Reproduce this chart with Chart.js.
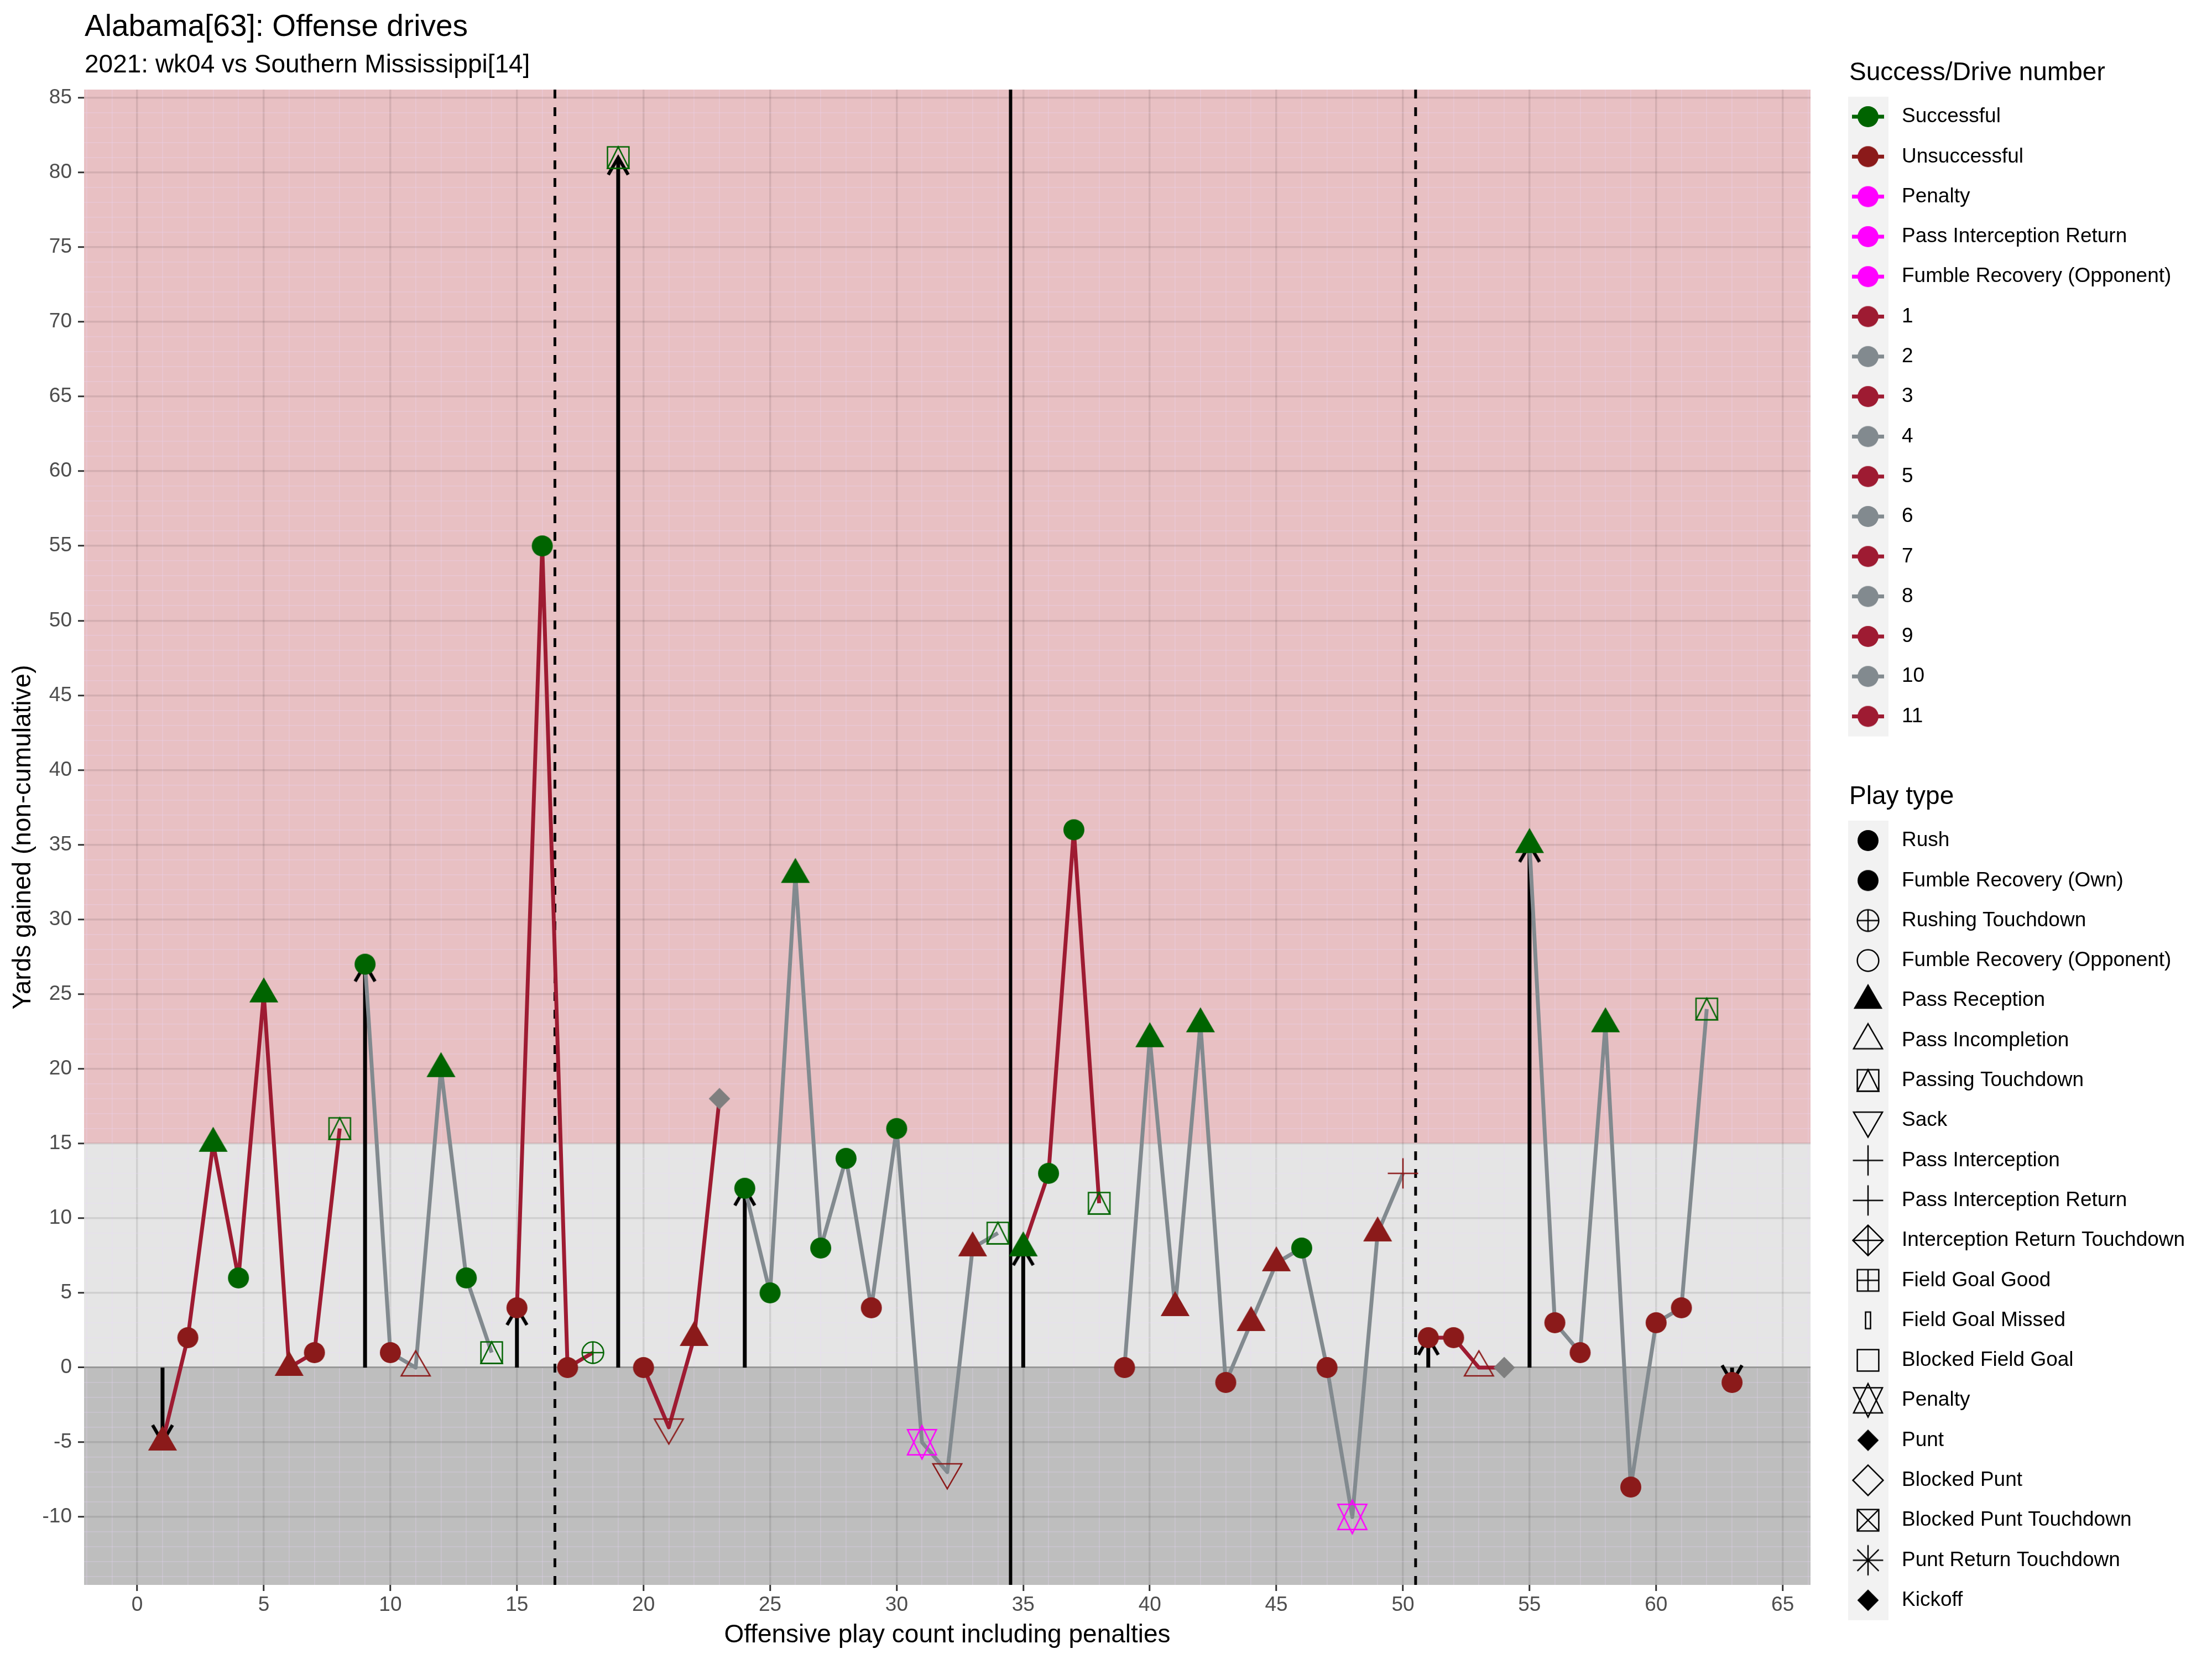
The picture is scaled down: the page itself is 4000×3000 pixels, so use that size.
<!DOCTYPE html>
<html>
<head>
<meta charset="utf-8">
<title>Alabama[63]: Offense drives</title>
<script src="https://cdn.jsdelivr.net/npm/chart.js@4.4.1/dist/chart.umd.min.js"></script>
<style>
  body { margin: 0; background: #ffffff; }
  canvas { display: block; }
</style>
</head>
<body>
<canvas id="driveChart" width="4000" height="3000"></canvas>
<script>
// play by play
const playNo = [1, 2, 3, 4, 5, 6, 7, 8, 9, 10, 11, 12, 13, 14, 15, 16, 17, 18, 19, 20,
  21, 22, 23, 24, 25, 26, 27, 28, 29, 30, 31, 32, 33, 34, 35, 36, 37, 38, 39, 40,
  41, 42, 43, 44, 45, 46, 47, 48, 49, 50, 51, 52, 53, 54, 55, 56, 57, 58, 59, 60,
  61, 62, 63];
const yardsGained = [-5, 2, 15, 6, 25, 0, 1, 16, 27, 1, 0, 20, 6, 1, 4, 55, 0, 1, 81, 0,
  -4, 2, 18, 12, 5, 33, 8, 14, 4, 16, -5, -7, 8, 9, 8, 13, 36, 11, 0, 22,
  4, 23, -1, 3, 7, 8, 0, -10, 9, 13, 2, 2, 0, 0, 35, 3, 1, 23, -8, 3,
  4, 24, -1];
const playType = ['Pass Reception', 'Rush', 'Pass Reception', 'Rush', 'Pass Reception', 'Pass Reception', 'Rush', 'Passing Touchdown',
  'Rush', 'Rush', 'Pass Incompletion', 'Pass Reception', 'Rush', 'Passing Touchdown',
  'Rush', 'Rush', 'Rush', 'Rushing Touchdown',
  'Passing Touchdown',
  'Rush', 'Sack', 'Pass Reception', 'Punt',
  'Rush', 'Rush', 'Pass Reception', 'Rush', 'Rush', 'Rush', 'Rush', 'Penalty', 'Sack', 'Pass Reception', 'Passing Touchdown',
  'Pass Reception', 'Rush', 'Rush', 'Passing Touchdown',
  'Rush', 'Pass Reception', 'Pass Reception', 'Pass Reception', 'Rush', 'Pass Reception', 'Pass Reception', 'Rush', 'Rush', 'Penalty', 'Pass Reception', 'Pass Interception',
  'Rush', 'Rush', 'Pass Incompletion', 'Punt',
  'Pass Reception', 'Rush', 'Rush', 'Pass Reception', 'Rush', 'Rush', 'Rush', 'Passing Touchdown',
  'Rush'];
// S = successful, U = unsuccessful, P = penalty, null = not rated
const playResult = ['U', 'U', 'S', 'S', 'S', 'U', 'U', 'S',
  'S', 'U', 'U', 'S', 'S', 'S',
  'U', 'S', 'U', 'S',
  'S',
  'U', 'U', 'U', null,
  'S', 'S', 'S', 'S', 'S', 'U', 'S', 'P', 'U', 'U', 'S',
  'S', 'S', 'S', 'S',
  'U', 'S', 'U', 'S', 'U', 'U', 'U', 'S', 'U', 'P', 'U', 'U',
  'U', 'U', 'U', null,
  'S', 'U', 'U', 'S', 'U', 'U', 'U', 'S',
  'U'];
const driveNo = [1, 1, 1, 1, 1, 1, 1, 1,
  2, 2, 2, 2, 2, 2,
  3, 3, 3, 3,
  4,
  5, 5, 5, 5,
  6, 6, 6, 6, 6, 6, 6, 6, 6, 6, 6,
  7, 7, 7, 7,
  8, 8, 8, 8, 8, 8, 8, 8, 8, 8, 8, 8,
  9, 9, 9, 9,
  10, 10, 10, 10, 10, 10, 10, 10,
  11];

const xRange = [-2.1, 66.1];
const yRange = [-14.55, 85.55];
const xTickLabels = [0, 5, 10, 15, 20, 25, 30, 35, 40, 45, 50, 55, 60, 65];
const yTickLabels = [-10, -5, 0, 5, 10, 15, 20, 25, 30, 35, 40, 45, 50, 55, 60, 65, 70, 75, 80, 85];
const quarterBreaks = [16.5, 50.5];
const halfBreaks = [34.5];

const successLabels = ['Successful', 'Unsuccessful', 'Penalty', 'Pass Interception Return', 'Fumble Recovery (Opponent)'];
const successColors = ['#006400', '#8B1A1A', '#FF00FF', '#FF00FF', '#FF00FF'];
const driveLabels = ['1', '2', '3', '4', '5', '6', '7', '8', '9', '10', '11'];
const driveColors = ['#9E1B32', '#828A8F'];
const playTypeLabels = ['Rush', 'Fumble Recovery (Own)', 'Rushing Touchdown', 'Fumble Recovery (Opponent)',
  'Pass Reception', 'Pass Incompletion', 'Passing Touchdown', 'Sack', 'Pass Interception',
  'Pass Interception Return', 'Interception Return Touchdown', 'Field Goal Good', 'Field Goal Missed',
  'Blocked Field Goal', 'Penalty', 'Punt', 'Blocked Punt', 'Blocked Punt Touchdown',
  'Punt Return Touchdown', 'Kickoff'];
const playTypeShapes = ['dot', 'dot', 'circlePlus', 'circle', 'triUp', 'triUpOpen', 'squareTri', 'triDownOpen', 'plus',
  'plus', 'diamondPlus', 'squarePlus', 'slab', 'square', 'star', 'diamondSmall', 'diamond', 'squareX',
  'asterisk', 'diamondSmall'];

const FONT = "'Liberation Sans', Arial, sans-serif";
const resultColor = { S: '#006400', U: '#8B1A1A', P: '#FF00FF' };
const RAD = 19.4;
const symbolCache = {};

// ggplot-like point shapes drawn onto small canvases, used as pointStyle
function makeSymbol(shape, color) {
  const key = shape + '|' + color;
  if (symbolCache[key]) return symbolCache[key];
  const size = 72;
  const c = document.createElement('canvas');
  c.width = size;
  c.height = size;
  const g = c.getContext('2d');
  g.translate(size / 2, size / 2);
  g.strokeStyle = color;
  g.fillStyle = color;
  g.lineWidth = 2.5;
  const r = RAD;
  const t0 = 1.5551 * r, t1 = 1.3468 * r, t2 = 0.7776 * r;
  const d = Math.SQRT2 * r;
  const path = (pts) => {
    g.beginPath();
    pts.forEach(([px, py], i) => (i ? g.lineTo(px, py) : g.moveTo(px, py)));
    g.closePath();
  };
  const seg = (x1, y1, x2, y2) => {
    g.beginPath();
    g.moveTo(x1, y1);
    g.lineTo(x2, y2);
    g.stroke();
  };
  switch (shape) {
    case 'dot':
      g.beginPath(); g.arc(0, 0, 19, 0, 2 * Math.PI); g.fill();
      break;
    case 'circle':
      g.beginPath(); g.arc(0, 0, r, 0, 2 * Math.PI); g.stroke();
      break;
    case 'circlePlus':
      g.beginPath(); g.arc(0, 0, r, 0, 2 * Math.PI); g.stroke();
      seg(-r, 0, r, 0); seg(0, -r, 0, r);
      break;
    case 'triUp':
      path([[0, -t0], [t1, t2], [-t1, t2]]); g.fill();
      break;
    case 'triUpOpen':
      path([[0, -t0], [t1, t2], [-t1, t2]]); g.stroke();
      break;
    case 'triDownOpen':
      path([[0, t0], [t1, -t2], [-t1, -t2]]); g.stroke();
      break;
    case 'squareTri':
      g.strokeRect(-r, -r, 2 * r, 2 * r);
      path([[0, -r], [r, r], [-r, r]]); g.stroke();
      break;
    case 'plus':
      seg(-d, 0, d, 0); seg(0, -d, 0, d);
      break;
    case 'diamondPlus':
      path([[0, -d], [d, 0], [0, d], [-d, 0]]); g.stroke();
      seg(-d, 0, d, 0); seg(0, -d, 0, d);
      break;
    case 'squarePlus':
      g.strokeRect(-r, -r, 2 * r, 2 * r);
      seg(-r, 0, r, 0); seg(0, -r, 0, r);
      break;
    case 'slab':
      g.strokeRect(-4.5, -15, 9, 30);
      break;
    case 'square':
      g.strokeRect(-r, -r, 2 * r, 2 * r);
      break;
    case 'star': {
      const yc = 0.5 * (t0 + t2);
      path([[0, -t0], [t1, yc], [-t1, yc]]); g.stroke();
      path([[0, t0], [t1, -yc], [-t1, -yc]]); g.stroke();
      break;
    }
    case 'diamondSmall':
      path([[0, -r], [r, 0], [0, r], [-r, 0]]); g.fill();
      break;
    case 'diamond':
      path([[0, -d], [d, 0], [0, d], [-d, 0]]); g.stroke();
      break;
    case 'squareX':
      g.strokeRect(-r, -r, 2 * r, 2 * r);
      seg(-r, -r, r, r); seg(-r, r, r, -r);
      break;
    case 'asterisk':
      seg(-d, 0, d, 0); seg(0, -d, 0, d);
      seg(-r, -r, r, r); seg(-r, r, r, -r);
      break;
    case 'chevron':
      g.lineWidth = 6;
      g.beginPath(); g.moveTo(-18, 31); g.lineTo(0, 0); g.lineTo(18, 31); g.stroke();
      break;
  }
  symbolCache[key] = c;
  return c;
}

function shapeOf(type) {
  return playTypeShapes[playTypeLabels.indexOf(type)];
}

// points coloured by success, shaped by play type
const playPoints = playNo.map((p, i) => ({ x: p, y: yardsGained[i] }));
const playSymbols = playNo.map((p, i) =>
  makeSymbol(shapeOf(playType[i]), playResult[i] ? resultColor[playResult[i]] : '#7F7F7F'));

// one line per drive
const driveSets = driveLabels.map((lab, k) => {
  const d = k + 1;
  return {
    label: 'Drive ' + lab,
    data: playNo.filter((p, i) => driveNo[i] === d).map(p => ({ x: p, y: yardsGained[p - 1] })),
    showLine: true,
    borderColor: driveColors[k % 2],
    borderWidth: 7,
    borderJoinStyle: 'round',
    pointRadius: 0,
    order: 1
  };
});

// arrows from 0 to the first play of each drive
const driveStarts = playNo.filter((p, i) => i === 0 || driveNo[i - 1] !== driveNo[i]);
const arrowSets = driveStarts
  .filter(p => yardsGained[p - 1] !== 0)
  .map(p => {
    const y = yardsGained[p - 1];
    return {
      label: 'Start ' + p,
      data: [{ x: p, y: 0 }, { x: p, y: y }],
      showLine: true,
      borderColor: '#000000',
      borderWidth: 7,
      pointRadius: [0, 10],
      pointStyle: [false, makeSymbol('chevron', '#000000')],
      pointRotation: [0, y < 0 ? 180 : 0],
      order: 2
    };
  });

const breakSets = quarterBreaks.map(b => ({
  label: 'Quarter ' + b,
  data: [{ x: b, y: yRange[0] }, { x: b, y: yRange[1] }],
  showLine: true,
  borderColor: '#000000',
  borderWidth: 5,
  borderDash: [16, 16],
  pointRadius: 0,
  order: 3
})).concat(halfBreaks.map(b => ({
  label: 'Half ' + b,
  data: [{ x: b, y: yRange[0] }, { x: b, y: yRange[1] }],
  showLine: true,
  borderColor: '#000000',
  borderWidth: 6,
  pointRadius: 0,
  order: 3
})));

const intRange = (a, b) => Array.from({ length: b - a + 1 }, (_, i) => a + i);

// coloured yard bands behind the grid
const bandPlugin = {
  id: 'bands',
  beforeDraw(chart) {
    const { ctx, chartArea: a, scales: { y } } = chart;
    const y0 = y.getPixelForValue(0);
    const y15 = y.getPixelForValue(15);
    ctx.save();
    ctx.fillStyle = '#E8C0C3';
    ctx.fillRect(a.left, a.top, a.right - a.left, y15 - a.top);
    ctx.fillStyle = '#E5E5E5';
    ctx.fillRect(a.left, y15, a.right - a.left, y0 - y15);
    ctx.fillStyle = '#BEBEBE';
    ctx.fillRect(a.left, y0, a.right - a.left, a.bottom - y0);
    ctx.restore();
  }
};

// titles and the two ggplot-style legends
const textPlugin = {
  id: 'titlesAndLegend',
  afterDraw(chart) {
    const ctx = chart.ctx;
    ctx.save();
    ctx.textBaseline = 'middle';
    ctx.textAlign = 'left';
    ctx.fillStyle = '#000000';
    ctx.font = '55px ' + FONT;
    ctx.fillText('Alabama[63]: Offense drives', 153, 50);
    ctx.font = '46px ' + FONT;
    ctx.fillText('2021: wk04 vs Southern Mississippi[14]', 153, 118);

    const keyLeft = 3342, keyW = 73, step = 72.3, keyX = 3378, textX = 3439;

    // Success / drive number
    ctx.font = '46px ' + FONT;
    ctx.fillText('Success/Drive number', 3344, 132);
    const items1 = successLabels.map((l, i) => ({ label: l, color: successColors[i] }))
      .concat(driveLabels.map((l, i) => ({ label: l, color: driveColors[i % 2] })));
    const top1 = 211;
    ctx.fillStyle = '#F2F2F2';
    ctx.fillRect(keyLeft, top1 - step / 2, keyW, items1.length * step);
    ctx.font = '37px ' + FONT;
    items1.forEach((it, i) => {
      const cy = top1 + i * step;
      ctx.strokeStyle = it.color;
      ctx.lineWidth = 7;
      ctx.beginPath();
      ctx.moveTo(keyX - 29, cy);
      ctx.lineTo(keyX + 29, cy);
      ctx.stroke();
      ctx.drawImage(makeSymbol('dot', it.color), keyX - 36, cy - 36);
      ctx.fillStyle = '#000000';
      ctx.fillText(it.label, textX, cy);
    });

    // Play type
    ctx.font = '46px ' + FONT;
    ctx.fillText('Play type', 3344, 1441);
    const top2 = 1520;
    ctx.fillStyle = '#F2F2F2';
    ctx.fillRect(keyLeft, top2 - step / 2, keyW, playTypeLabels.length * step);
    ctx.font = '37px ' + FONT;
    playTypeLabels.forEach((l, i) => {
      const cy = top2 + i * step;
      ctx.drawImage(makeSymbol(playTypeShapes[i], '#000000'), keyX - 36, cy - 36);
      ctx.fillStyle = '#000000';
      ctx.fillText(l, textX, cy);
    });
    ctx.restore();
  }
};

const majorGrid = 'rgba(0, 0, 0, 0.09)';
const minorGrid = 'rgba(235, 215, 255, 0.25)';

const ctx = document.getElementById('driveChart').getContext('2d');
new Chart(ctx, {
  type: 'scatter',
  data: {
    datasets: [
      {
        label: 'Plays',
        data: playPoints,
        pointStyle: playSymbols,
        pointRadius: 10,
        showLine: false,
        order: 0
      }
    ].concat(driveSets, arrowSets, breakSets)
  },
  options: {
    responsive: false,
    devicePixelRatio: 1,
    animation: false,
    events: [],
    layout: { padding: { top: 162, right: 726, bottom: 0, left: 0 } },
    plugins: {
      legend: { display: false },
      tooltip: { enabled: false },
      title: { display: false }
    },
    scales: {
      x: {
        type: 'linear',
        min: xRange[0],
        max: xRange[1],
        afterBuildTicks: (axis) => { axis.ticks = intRange(-2, 66).map(v => ({ value: v })); },
        afterFit: (axis) => { axis.height = 134; },
        border: { display: false },
        grid: {
          color: (c) => (c.tick && c.tick.value % 5 === 0 ? majorGrid : minorGrid),
          lineWidth: (c) => (c.tick && c.tick.value % 5 === 0 ? 3.5 : 1.7),
          tickColor: (c) => (c.tick && xTickLabels.includes(c.tick.value) ? '#333333' : 'rgba(0,0,0,0)'),
          tickWidth: 3,
          tickLength: 11
        },
        ticks: {
          autoSkip: false,
          maxRotation: 0,
          padding: 4,
          color: '#4D4D4D',
          font: { family: FONT, size: 37 },
          callback: (v) => (xTickLabels.includes(v) ? String(v) : '')
        },
        title: {
          display: true,
          text: 'Offensive play count including penalties',
          color: '#000000',
          font: { family: FONT, size: 46 },
          padding: { top: 0, bottom: 15 }
        }
      },
      y: {
        type: 'linear',
        min: yRange[0],
        max: yRange[1],
        afterBuildTicks: (axis) => { axis.ticks = intRange(-14, 85).map(v => ({ value: v })); },
        afterFit: (axis) => { axis.width = 152; },
        border: { display: false },
        grid: {
          color: (c) => {
            if (!c.tick) return minorGrid;
            if (c.tick.value === 0) return '#979797';
            return c.tick.value % 5 === 0 ? majorGrid : minorGrid;
          },
          lineWidth: (c) => {
            if (!c.tick) return 1.7;
            if (c.tick.value === 0) return 3;
            return c.tick.value % 5 === 0 ? 3.5 : 1.7;
          },
          tickColor: (c) => (c.tick && yTickLabels.includes(c.tick.value) ? '#333333' : 'rgba(0,0,0,0)'),
          tickWidth: 3,
          tickLength: 11
        },
        ticks: {
          autoSkip: false,
          padding: 11,
          color: '#4D4D4D',
          font: { family: FONT, size: 37 },
          callback: (v) => (yTickLabels.includes(v) ? String(v) : '')
        },
        title: {
          display: true,
          text: 'Yards gained (non-cumulative)',
          color: '#000000',
          font: { family: FONT, size: 46 },
          padding: { top: 15, bottom: 0 }
        }
      }
    }
  },
  plugins: [bandPlugin, textPlugin]
});
</script>
</body>
</html>
